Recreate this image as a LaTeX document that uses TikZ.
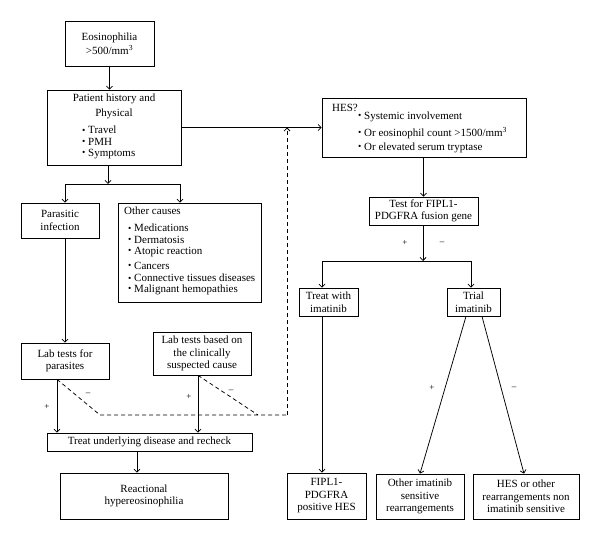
\documentclass[tikz,border=0pt]{standalone}
\usepackage{fontspec}
\setmainfont{Liberation Serif}
\usetikzlibrary{arrows.meta}
\newcommand{\bul}{\raisebox{0.15ex}{\scalebox{0.85}{\textbullet}}\ }
\begin{document}
\begin{tikzpicture}[x=1pt,y=-1pt,
  box/.style={draw, line width=0.75pt, inner sep=0pt, align=center, font=\fontsize{11}{12.5}\selectfont},
  txt/.style={inner sep=0pt, anchor=west, font=\fontsize{11}{12.5}\selectfont},
  ctxt/.style={inner sep=0pt, anchor=center, align=center, font=\fontsize{11}{12.5}\selectfont},
  arr/.style={line width=0.75pt, -{Straight Barb[length=3pt,width=6pt]}},
  dline/.style={line width=0.75pt, dash pattern=on 4pt off 3pt},
  darr/.style={line width=0.75pt, dash pattern=on 4pt off 3pt, -{Straight Barb[length=3pt,width=6pt]}},
  sign/.style={inner sep=0pt, font=\fontsize{9}{9}\selectfont}]
\useasboundingbox (0,0) rectangle (600,540);

% ---- left column boxes
\node[box, minimum width=89pt, minimum height=45pt] (eos) at (109.5,43.5) {Eosinophilia\\[2pt]>500/mm\textsuperscript{3}};
\node[box, minimum width=134pt, minimum height=75pt] (pat) at (114,127.5) {};
\node[ctxt] (tpat1) at (114,99) {Patient history and};
\node[ctxt] (tpat2) at (114,114) {Physical};
\node[txt] (tpat3) at (82,130) {\bul Travel};
\node[txt] (tpat4) at (82,142) {\bul PMH};
\node[txt] (tpat5) at (82,154) {\bul Symptoms};

\node[box, minimum width=78pt, minimum height=35pt] (par) at (60,220.5) {Parasitic\\infection};

\node[box, minimum width=143pt, minimum height=99pt] (oth) at (189.5,252.5) {};
\node[txt] (toth0) at (124,211) {Other causes};
\node[txt] (toth1) at (128,228) {\bul Medications};
\node[txt] (toth2) at (128,240) {\bul Dermatosis};
\node[txt] (toth3) at (128,252) {\bul Atopic reaction};
\node[txt] (toth4) at (128,266) {\bul Cancers};
\node[txt] (toth5) at (128,278) {\bul Connective tissues diseases};
\node[txt] (toth6) at (128,290) {\bul Malignant hemopathies};

\node[box, minimum width=88pt, minimum height=36pt] (labp) at (65,361) {Lab tests for\\parasites};
\node[box, minimum width=98pt, minimum height=43pt] (labb) at (202,353.5) {Lab tests based on\\the clinically\\suspected cause};
\node[box, minimum width=205pt, minimum height=18pt] (treat) at (149.5,442) {Treat underlying disease and recheck};
\node[box, minimum width=168pt, minimum height=46pt] (react) at (144,496) {Reactional\\hypereosinophilia};

% ---- right column boxes
\node[box, minimum width=204pt, minimum height=59pt] (hes) at (424,127.5) {};
\node[txt] (thes0) at (332,108) {HES?};
\node[txt] (thes1) at (358,117) {\bul Systemic involvement};
\node[txt] (thes2) at (358,133) {\bul Or eosinophil count >1500/mm\textsuperscript{3}};
\node[txt] (thes3) at (358,148) {\bul Or elevated serum tryptase};

\node[box, minimum width=109pt, minimum height=28pt] (test) at (423.5,211) {Test for FIPL1-\\PDGFRA fusion gene};
\node[box, minimum width=59pt, minimum height=28pt] (tw) at (328.5,302) {Treat with\\imatinib};
\node[box, minimum width=53pt, minimum height=28pt] (trial) at (473.5,302) {Trial\\imatinib};
\node[box, minimum width=79pt, minimum height=46pt] (fip) at (326.5,496) {FIPL1-\\PDGFRA\\positive HES};
\node[box, minimum width=88pt, minimum height=45pt] (oir) at (420,496.5) {Other imatinib\\sensitive\\rearrangements};
\node[box, minimum width=106pt, minimum height=45pt] (hno) at (526,496.5) {HES or other\\rearrangements non\\imatinib sensitive};

% ---- coordinates
\coordinate (s1) at (108,184);
\coordinate (s1l) at (65,184);
\coordinate (s1r) at (180,184);
\coordinate (pl) at (57,0);
\coordinate (bl) at (198,0);
\coordinate (d1) at (100,415);
\coordinate (d2) at (287,415);
\coordinate (d3) at (258,415);
\coordinate (s2) at (423,261);
\coordinate (s2l) at (322,261);
\coordinate (s2r) at (471,261);

% ---- connectors left
\draw[arr] (eos.south) -- (eos.south |- pat.north);
\draw[arr] (pat.south -| s1) -- (s1);
\draw[arr] (s1) -- (s1l) -- (s1l |- par.north);
\draw[arr] (s1) -- (s1r) -- (s1r |- oth.north);
\draw[arr] (par.south -| s1l) -- (labp.north -| s1l);
\draw[arr] (labp.south -| pl) -- (treat.north -| pl);
\draw[arr] (labb.south -| bl) -- (treat.north -| bl);
\draw[arr] (treat.south -| 137,0) -- (react.north -| 137,0);
\draw[dline] (labp.south -| pl) -- (d1) -- (d2);
\draw[dline] (labb.south -| bl) -- (d3);
\draw[darr] (d2) -- (d2 |- hes.west);
\draw[arr] (pat.east |- hes.west) -- (hes.west);

% ---- connectors right
\draw[arr] (hes.south -| test.north) -- (test.north);
\draw[arr] (test.south -| s2) -- (s2);
\draw[arr] (s2) -- (s2l) -- (s2l |- tw.north);
\draw[arr] (s2) -- (s2r) -- (s2r |- trial.north);
\draw[arr] (tw.south -| s2l) -- (fip.north -| s2l);
\draw[arr] (trial.south -| 466,0) -- (oir.north);
\draw[arr] (trial.south -| 482,0) -- (524,0 |- hno.north);

% ---- signs
\node[sign] (p1) at (405,243) {+};
\node[sign] (m1) at (442,243) {\textendash};
\node[sign] (p2) at (432,388) {+};
\node[sign] (m2) at (514,388) {\textendash};
\node[sign] (p3) at (47,407) {+};
\node[sign] (m3) at (88,394) {\textendash};
\node[sign] (p4) at (189,397) {+};
\node[sign] (m4) at (231,391) {\textendash};
\end{tikzpicture}
\end{document}
